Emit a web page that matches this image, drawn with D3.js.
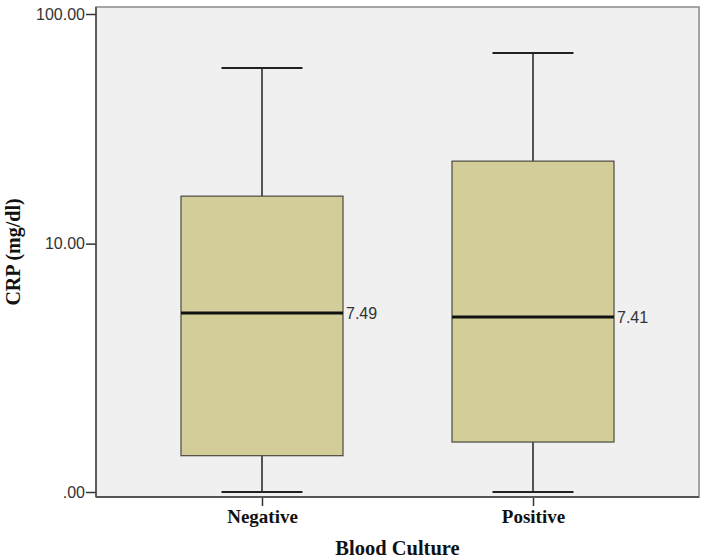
<!DOCTYPE html>
<html>
<head>
<meta charset="utf-8">
<script src="https://cdn.jsdelivr.net/npm/d3@7"></script>
<style>
  body { margin: 0; background: #fff; }
</style>
</head>
<body>
<div id="chart"></div>
<script>
// Data
const groups = ["Negative", "Positive"];
const whiskerLow = [0, 0];
const q1 = [0.42, 0.62];
const median = [4.63, 4.42];
const q3 = [16.4, 23.4];
const whiskerHigh = [59.0, 68.3];
const medianLabels = ["7.49", "7.41"];
const yTicks = [0, 10, 100];
const yTickLabels = [".00", "10.00", "100.00"];

const width = 709, height = 560;
const plot = { left: 96, right: 699, top: 7, bottom: 497 };

const svg = d3.select("#chart").append("svg")
  .attr("width", width)
  .attr("height", height);

// Scales
const y = d3.scaleSymlog().constant(1)
  .domain([0, 100])
  .range([492, 14]);

const x = d3.scalePoint()
  .domain(groups)
  .range([262, 533]);

const boxWidth = 162;
const capWidth = 81;

// Plot background
svg.append("rect")
  .attr("x", plot.left)
  .attr("y", plot.top)
  .attr("width", plot.right - plot.left)
  .attr("height", plot.bottom - plot.top)
  .style("fill", "#f0f0f0")
  .style("stroke", "#8a8a8a")
  .style("stroke-width", 1.5);

// Y axis
const yAxis = d3.axisLeft(y)
  .tickValues(yTicks)
  .tickFormat((d, i) => yTickLabels[i])
  .tickSize(10)
  .tickSizeOuter(0);

const gy = svg.append("g")
  .attr("transform", `translate(${plot.left},0)`)
  .call(yAxis);
gy.select(".domain").remove();
gy.selectAll(".tick line").style("stroke", "#333").style("stroke-width", 1.5);
gy.selectAll(".tick text")
  .style("font-family", "Liberation Sans, Arial, sans-serif")
  .style("font-size", "16px")
  .style("fill", "#333")
  .attr("x", -11);

svg.append("line")
  .attr("x1", plot.left).attr("x2", plot.left)
  .attr("y1", plot.top).attr("y2", plot.bottom)
  .style("stroke", "#444").style("stroke-width", 1.5);

// X axis
const xAxis = d3.axisBottom(x).tickSize(9).tickSizeOuter(0);
const gx = svg.append("g")
  .attr("transform", `translate(0,${plot.bottom})`)
  .call(xAxis);
gx.select(".domain").remove();
gx.selectAll(".tick line").style("stroke", "#333").style("stroke-width", 1.5);
gx.selectAll(".tick text")
  .attr("y", 13)
  .style("font-family", "Liberation Serif, Times New Roman, serif")
  .style("font-weight", "bold")
  .style("font-size", "19px")
  .style("fill", "#111");

svg.append("line")
  .attr("x1", plot.left).attr("x2", plot.right)
  .attr("y1", plot.bottom).attr("y2", plot.bottom)
  .style("stroke", "#555").style("stroke-width", 2);

// Boxes
const boxes = svg.selectAll(".box")
  .data(groups)
  .enter()
  .append("g")
  .attr("class", "box");

// whisker stems
boxes.append("line")
  .attr("x1", d => x(d)).attr("x2", d => x(d))
  .attr("y1", (d, i) => y(whiskerHigh[i]))
  .attr("y2", (d, i) => y(q3[i]))
  .style("stroke", "#222").style("stroke-width", 1.5);
boxes.append("line")
  .attr("x1", d => x(d)).attr("x2", d => x(d))
  .attr("y1", (d, i) => y(q1[i]))
  .attr("y2", (d, i) => y(whiskerLow[i]))
  .style("stroke", "#222").style("stroke-width", 1.5);

// caps
[whiskerHigh, whiskerLow].forEach(vals => {
  boxes.append("line")
    .attr("x1", d => x(d) - capWidth / 2)
    .attr("x2", d => x(d) + capWidth / 2)
    .attr("y1", (d, i) => y(vals[i]))
    .attr("y2", (d, i) => y(vals[i]))
    .style("stroke", "#222").style("stroke-width", 2);
});

// box body
boxes.append("rect")
  .attr("x", d => x(d) - boxWidth / 2)
  .attr("width", boxWidth)
  .attr("y", (d, i) => y(q3[i]))
  .attr("height", (d, i) => y(q1[i]) - y(q3[i]))
  .style("fill", "#d3ce99")
  .style("stroke", "#4a4a40")
  .style("stroke-width", 1.2);

// median
boxes.append("line")
  .attr("x1", d => x(d) - boxWidth / 2)
  .attr("x2", d => x(d) + boxWidth / 2)
  .attr("y1", (d, i) => y(median[i]))
  .attr("y2", (d, i) => y(median[i]))
  .style("stroke", "#111").style("stroke-width", 3);

boxes.append("text")
  .attr("x", d => x(d) + boxWidth / 2 + 3)
  .attr("y", (d, i) => y(median[i]))
  .attr("dy", "0.35em")
  .text((d, i) => medianLabels[i])
  .style("font-family", "Liberation Sans, Arial, sans-serif")
  .style("font-size", "16px")
  .style("fill", "#333");

// Axis titles
svg.append("text")
  .attr("x", (plot.left + plot.right) / 2)
  .attr("y", 555)
  .attr("text-anchor", "middle")
  .text("Blood Culture")
  .style("font-family", "Liberation Serif, Times New Roman, serif")
  .style("font-weight", "bold")
  .style("font-size", "20.5px")
  .style("fill", "#111");

svg.append("text")
  .attr("transform", `translate(20,${(plot.top + plot.bottom) / 2}) rotate(-90)`)
  .attr("text-anchor", "middle")
  .text("CRP (mg/dl)")
  .style("font-family", "Liberation Serif, Times New Roman, serif")
  .style("font-weight", "bold")
  .style("font-size", "20px")
  .style("fill", "#111");
</script>
</body>
</html>
